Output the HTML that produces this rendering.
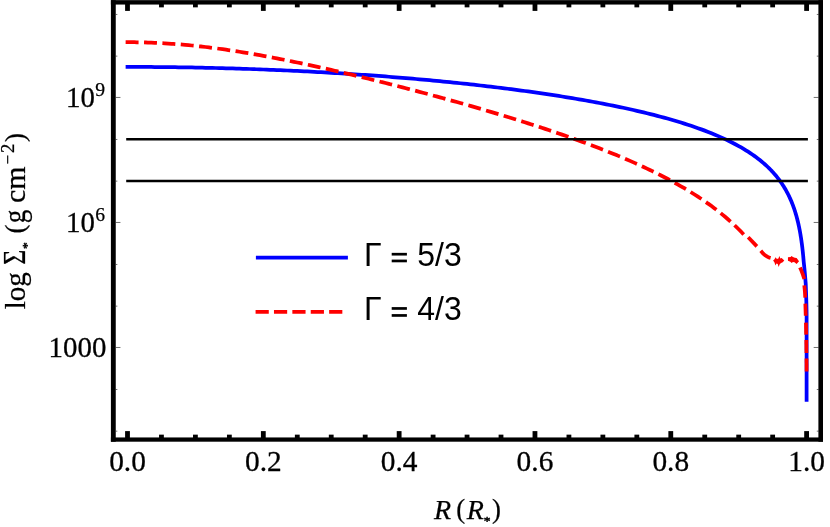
<!DOCTYPE html>
<html><head><meta charset="utf-8"><title>plot</title>
<style>
html,body{margin:0;padding:0;background:#fff;}
body{width:830px;height:527px;overflow:hidden;}
svg{display:block;}
text{font-family:"Liberation Serif",serif;fill:#000;}
.sans{font-family:"Liberation Sans",sans-serif;}
</style></head><body>
<svg width="830" height="527" viewBox="0 0 830 527">
<rect width="830" height="527" fill="#fff"/>
<!-- curves -->
<path d="M127.5 66.91 L130.9 66.91 L134.29 66.91 L137.69 66.92 L141.08 66.93 L144.48 66.95 L147.87 66.96 L151.27 66.99 L154.66 67.01 L158.06 67.04 L161.46 67.07 L164.85 67.1 L168.25 67.14 L171.64 67.18 L175.04 67.22 L178.43 67.27 L181.83 67.32 L185.22 67.37 L188.62 67.43 L192.01 67.49 L195.41 67.55 L198.81 67.62 L202.2 67.69 L205.6 67.76 L208.99 67.84 L212.39 67.92 L215.78 68 L219.18 68.08 L222.57 68.17 L225.97 68.27 L229.37 68.36 L232.76 68.46 L236.16 68.56 L239.55 68.67 L242.95 68.78 L246.34 68.89 L249.74 69 L253.13 69.12 L256.53 69.25 L259.92 69.37 L263.32 69.5 L266.72 69.63 L270.11 69.77 L273.51 69.91 L276.9 70.05 L280.3 70.2 L283.69 70.35 L287.09 70.5 L290.48 70.65 L293.88 70.81 L297.27 70.98 L300.67 71.14 L304.07 71.31 L307.46 71.49 L310.86 71.67 L314.25 71.85 L317.65 72.03 L321.04 72.22 L324.44 72.41 L327.83 72.6 L331.23 72.8 L334.63 73.01 L338.02 73.21 L341.42 73.42 L344.81 73.63 L348.21 73.85 L351.6 74.07 L355 74.3 L358.39 74.52 L361.79 74.76 L365.19 74.99 L368.58 75.23 L371.98 75.48 L375.37 75.72 L378.77 75.97 L382.16 76.23 L385.56 76.49 L388.95 76.75 L392.35 77.02 L395.74 77.29 L399.14 77.56 L402.54 77.84 L405.93 78.13 L409.33 78.41 L412.72 78.71 L416.12 79 L419.51 79.3 L422.91 79.61 L426.3 79.92 L429.7 80.23 L433.1 80.55 L436.49 80.87 L439.89 81.2 L443.28 81.53 L446.68 81.86 L450.07 82.2 L453.47 82.55 L456.86 82.9 L460.26 83.25 L463.65 83.61 L467.05 83.98 L470.45 84.35 L473.84 84.72 L477.24 85.1 L480.63 85.49 L484.03 85.88 L487.42 86.27 L490.82 86.67 L494.21 87.08 L497.61 87.49 L501.01 87.91 L504.4 88.33 L507.8 88.76 L511.19 89.2 L514.59 89.64 L517.98 90.09 L521.38 90.54 L524.77 91 L528.17 91.47 L531.56 91.94 L534.96 92.42 L538.36 92.9 L541.75 93.4 L545.15 93.9 L548.54 94.41 L551.94 94.92 L555.33 95.44 L558.73 95.97 L562.12 96.51 L565.52 97.06 L568.91 97.61 L572.31 98.17 L575.71 98.75 L579.1 99.33 L582.5 99.92 L585.89 100.51 L589.29 101.12 L592.68 101.74 L596.08 102.37 L599.47 103.01 L602.87 103.66 L606.27 104.32 L609.66 104.99 L613.06 105.67 L616.45 106.36 L619.85 107.07 L623.24 107.79 L626.64 108.53 L630.03 109.27 L633.43 110.03 L636.83 110.81 L640.22 111.6 L643.62 112.41 L647.01 113.23 L650.41 114.07 L653.8 114.93 L657.2 115.81 L660.59 116.71 L663.99 117.62 L667.38 118.56 L670.78 119.52 L674.18 120.51 L677.57 121.51 L680.97 122.55 L684.36 123.61 L687.76 124.7 L691.15 125.82 L694.55 126.97 L697.94 128.15 L701.34 129.37 L704.74 130.63 L708.13 131.93 L711.53 133.28 L714.92 134.67 L718.32 136.11 L721.71 137.6 L725.11 139.16 L728.5 140.77 L731.9 142.46 L735.29 144.22 L738.69 146.06 L741.18 147.47 L743.58 148.87 L745.89 150.28 L748.11 151.68 L750.26 153.08 L752.32 154.48 L754.31 155.88 L756.23 157.27 L758.07 158.67 L759.85 160.06 L761.56 161.45 L763.22 162.84 L764.81 164.23 L766.34 165.62 L767.81 167 L769.23 168.39 L770.6 169.77 L771.92 171.15 L773.19 172.54 L774.42 173.92 L775.6 175.29 L776.73 176.67 L777.83 178.05 L778.88 179.43 L779.9 180.8 L780.88 182.18 L781.82 183.55 L782.73 184.92 L783.6 186.29 L784.45 187.67 L785.26 189.04 L786.04 190.41 L786.79 191.78 L787.52 193.14 L788.22 194.51 L788.89 195.88 L789.54 197.25 L790.17 198.61 L790.77 199.98 L791.35 201.34 L791.91 202.71 L792.45 204.07 L792.97 205.44 L793.47 206.8 L793.95 208.16 L794.41 209.52 L794.86 210.89 L795.29 212.25 L795.7 213.61 L796.1 214.97 L796.49 216.33 L796.86 217.69 L797.21 219.05 L797.56 220.41 L797.89 221.77 L798.21 223.13 L798.52 224.49 L798.81 225.84 L799.1 227.2 L799.37 228.56 L799.64 229.92 L799.89 231.28 L800.14 232.63 L800.38 233.99 L800.6 235.35 L800.82 236.7 L801.04 238.06 L801.24 239.42 L801.44 240.77 L801.62 242.13 L801.81 243.48 L801.98 244.84 L802.15 246.19 L802.32 247.55 L802.47 248.9 L802.62 250.26 L802.77 251.61 L802.91 252.97 L803.04 254.32 L803.18 255.68 L803.3 257.03 L803.42 258.39 L803.54 259.74 L803.65 261.1 L803.77 262.45 L803.92 263.8 L804.06 265.16 L804.2 266.51 L804.34 267.86 L804.47 269.22 L804.6 270.57 L804.73 271.92 L804.85 273.28 L804.97 274.63 L805.09 275.98 L805.2 277.34 L805.32 278.69 L805.43 280.04 L805.53 281.4 L805.64 282.75 L805.74 284.1 L805.79 285.46 L805.85 286.81 L805.9 288.16 L805.95 289.51 L806 290.87 L806.05 292.22 L806.1 293.57 L806.14 294.92 L806.18 296.28 L806.22 297.63 L806.26 298.98 L806.3 300.33 L806.34 301.69 L806.37 303.04 L806.41 304.39 L806.44 305.74 L806.47 307.09 L806.5 308.45 L806.53 309.8 L806.56 311.15 L806.59 312.5 L806.6 313.86 L806.6 315.21 L806.6 316.56 L806.6 317.91 L806.6 319.26 L806.6 320.62 L806.6 321.97 L806.6 323.32 L806.6 324.67 L806.6 326.02 L806.6 327.37 L806.6 328.73 L806.6 330.08 L806.6 331.43 L806.6 332.78 L806.6 334.13 L806.6 335.49 L806.6 336.84 L806.6 338.19 L806.6 339.54 L806.6 340.89 L806.6 342.24 L806.6 343.6 L806.6 344.95 L806.6 346.3 L806.6 347.65 L806.6 349 L806.6 350.35 L806.6 351.71 L806.6 353.06 L806.6 354.41 L806.6 355.76 L806.6 357.11 L806.6 358.46 L806.6 359.82 L806.6 361.17 L806.6 362.52 L806.6 363.87 L806.6 365.22 L806.6 366.57 L806.6 367.93 L806.6 369.28 L806.6 370.63 L806.6 371.98 L806.6 373.33 L806.6 374.68 L806.6 376.04 L806.6 377.39 L806.6 378.74 L806.6 380.09 L806.6 381.44 L806.6 382.79 L806.6 384.14 L806.6 385.5 L806.6 386.85 L806.6 388.2 L806.6 389.55 L806.6 390.9 L806.6 392.25 L806.6 393.61 L806.6 394.96 L806.6 396.31 L806.6 397.66 L806.6 399.01 L806.6 399.8" fill="none" stroke="#0000ff" stroke-width="3.75" stroke-linecap="square" stroke-linejoin="round"/>
<path d="M127.5 42.19 L130.9 42.2 L134.29 42.23 L137.69 42.27 L141.08 42.34 L144.48 42.43 L147.87 42.53 L151.27 42.65 L154.66 42.79 L158.06 42.95 L161.46 43.13 L164.85 43.33 L168.25 43.54 L171.64 43.77 L175.04 44.02 L178.43 44.29 L181.83 44.57 L185.22 44.87 L188.62 45.19 L192.01 45.52 L195.41 45.87 L198.81 46.24 L202.2 46.62 L205.6 47.01 L208.99 47.43 L212.39 47.85 L215.78 48.29 L219.18 48.75 L222.57 49.22 L225.97 49.7 L229.37 50.2 L232.76 50.71 L236.16 51.23 L239.55 51.77 L242.95 52.31 L246.34 52.87 L249.74 53.44 L253.13 54.02 L256.53 54.62 L259.92 55.22 L263.32 55.83 L266.72 56.46 L270.11 57.09 L273.51 57.74 L276.9 58.39 L280.3 59.05 L283.69 59.72 L287.09 60.4 L290.48 61.09 L293.88 61.79 L297.27 62.49 L300.67 63.2 L304.07 63.92 L307.46 64.65 L310.86 65.38 L314.25 66.12 L317.65 66.87 L321.04 67.63 L324.44 68.39 L327.83 69.15 L331.23 69.93 L334.63 70.71 L338.02 71.49 L341.42 72.28 L344.81 73.08 L348.21 73.88 L351.6 74.69 L355 75.5 L358.39 76.32 L361.79 77.14 L365.19 77.97 L368.58 78.8 L371.98 79.64 L375.37 80.48 L378.77 81.32 L382.16 82.18 L385.56 83.03 L388.95 83.89 L392.35 84.76 L395.74 85.63 L399.14 86.5 L402.54 87.38 L405.93 88.26 L409.33 89.15 L412.72 90.04 L416.12 90.94 L419.51 91.84 L422.91 92.74 L426.3 93.65 L429.7 94.57 L433.1 95.49 L436.49 96.41 L439.89 97.34 L443.28 98.27 L446.68 99.21 L450.07 100.15 L453.47 101.09 L456.86 102.05 L460.26 103 L463.65 103.96 L467.05 104.93 L470.45 105.9 L473.84 106.88 L477.24 107.86 L480.63 108.85 L484.03 109.84 L487.42 110.84 L490.82 111.85 L494.21 112.86 L497.61 113.88 L501.01 114.9 L504.4 115.93 L507.8 116.97 L511.19 118.01 L514.59 119.06 L517.98 120.12 L521.38 121.19 L524.77 122.26 L528.17 123.34 L531.56 124.43 L534.96 125.53 L538.36 126.63 L541.75 127.74 L545.15 128.87 L548.54 130 L551.94 131.14 L555.33 132.29 L558.73 133.45 L562.12 134.62 L565.52 135.81 L568.91 137 L572.31 138.2 L575.71 139.42 L579.1 140.65 L582.5 141.89 L585.89 143.14 L589.29 144.41 L592.68 145.69 L596.08 146.99 L599.47 148.3 L602.87 149.63 L606.27 150.97 L609.66 152.33 L613.06 153.71 L616.45 155.1 L619.85 156.51 L623.24 157.95 L626.64 159.4 L630.03 160.87 L633.43 162.37 L636.83 163.89 L640.22 165.43 L643.62 167 L647.01 168.6 L650.41 170.22 L653.8 171.87 L657.2 173.55 L660.59 175.26 L663.99 177 L667.38 178.78 L670.78 180.6 L674.18 182.45 L677.57 184.34 L680.97 186.28 L684.36 188.26 L687.76 190.29 L691.15 192.37 L694.55 194.5 L697.94 196.69 L701.34 198.94 L704.74 201.25 L708.13 203.64 L711.53 206.1 L714.92 208.63 L718.32 211.26 L721.71 213.97 L725.11 216.79 L728.5 219.71 L731.9 222.76 L735.29 225.93 L738.69 229.25 L741.18 231.78 L742.74 233.42" fill="none" stroke="#ff0000" stroke-width="3.75" stroke-linecap="square" stroke-linejoin="round" stroke-dasharray="9.2 9.2"/>
<g fill="none" stroke="#ff0000" stroke-width="3.75" stroke-linecap="butt" stroke-linejoin="miter">
<path d="M748.2 237.3 L756.9 246.4"/>
<path d="M760.8 250.8 L763 253.4 L765.1 255.3 L767.3 256.7 L769 257.5 L770.6 257.9"/>
<path d="M800 267.4 L801.4 270.6 L802.9 274.6 L804.3 279"/>
<path d="M804.3 285.4 L804.85 291 L805.25 297.6"/>
<path d="M805.35 303.6 L805.75 315.8"/>
<path d="M805.95 322.6 L806.15 334.6"/>
<path d="M806.3 340 L806.45 352.9"/>
<path d="M806.5 358.6 L806.6 371.4"/>
</g>
<g fill="#ff0000" stroke="none">
<polygon points="773.12,260.41 774.5,259.32 775.59,257.16 776.89,258.89 778.41,258.46 779.36,256.07 780.36,258.46 781.66,258.02 782.96,259.32 784.26,260.41 782.74,262.36 781.01,263.01 779.71,264.31 778.62,266.91 777.76,263.88 776.46,263.44 775.46,265.61 774.5,262.58"/>
<polygon points="787.95,257.16 790.55,256.94 791.63,255.98 792.93,256.94 794.89,257.81 796.62,258.02 799.01,261.27 796.62,263.96 794.45,262.36 792.93,261.93 791.63,263.01 790.33,261.71 787.95,260.84"/>
</g>
<!-- horizontal lines -->
<g stroke="#000" stroke-width="2.4">
<line x1="126.2" x2="807.9" y1="139.3" y2="139.3"/>
<line x1="126.2" x2="807.9" y1="181" y2="181"/>
</g>
<!-- legend -->
<line x1="255.9" x2="347.9" y1="257.7" y2="257.7" stroke="#0000ff" stroke-width="3.75"/>
<line x1="257.5" x2="347.9" y1="311.9" y2="311.9" stroke="#ff0000" stroke-width="3.85" stroke-linecap="square" stroke-dasharray="9.35 9.04"/>
<g class="sans" font-size="32" style="filter:grayscale(1)">
<g transform="translate(0 265.8) scale(1 1.045)"><text class="sans" x="363.9" y="0">Γ</text><text class="sans" x="417.2" y="0">5/3</text></g>
<g transform="translate(0 320.3) scale(1 1.045)"><text class="sans" x="363.9" y="0">Γ</text><text class="sans" x="417.2" y="0">4/3</text></g>
<rect x="391.7" y="252.85" width="15.2" height="2.7"/><rect x="391.7" y="259.6" width="15.2" height="2.7"/>
<rect x="391.7" y="307.1" width="15.2" height="2.7"/><rect x="391.7" y="314.1" width="15.2" height="2.7"/>
</g>
<!-- frame -->
<g fill="#000">
<rect x="110.9" y="0.15" width="4.85" height="441.55"/>
<rect x="818.4" y="0.15" width="4.6" height="441.55"/>
<rect x="110.9" y="0.15" width="712.1" height="4.4"/>
<rect x="110.9" y="437.45" width="712.1" height="4.25"/>
</g>
<g fill="#000">
<rect x="125.1" y="431.1" width="4.8" height="7.35"/>
<rect x="125.1" y="3.5" width="4.8" height="7.4"/>
<rect x="159.05" y="434.65" width="4.8" height="3.8"/>
<rect x="159.05" y="3.5" width="4.8" height="3.85"/>
<rect x="193.01" y="434.65" width="4.8" height="3.8"/>
<rect x="193.01" y="3.5" width="4.8" height="3.85"/>
<rect x="226.97" y="434.65" width="4.8" height="3.8"/>
<rect x="226.97" y="3.5" width="4.8" height="3.85"/>
<rect x="260.92" y="431.1" width="4.8" height="7.35"/>
<rect x="260.92" y="3.5" width="4.8" height="7.4"/>
<rect x="294.88" y="434.65" width="4.8" height="3.8"/>
<rect x="294.88" y="3.5" width="4.8" height="3.85"/>
<rect x="328.83" y="434.65" width="4.8" height="3.8"/>
<rect x="328.83" y="3.5" width="4.8" height="3.85"/>
<rect x="362.79" y="434.65" width="4.8" height="3.8"/>
<rect x="362.79" y="3.5" width="4.8" height="3.85"/>
<rect x="396.74" y="431.1" width="4.8" height="7.35"/>
<rect x="396.74" y="3.5" width="4.8" height="7.4"/>
<rect x="430.7" y="434.65" width="4.8" height="3.8"/>
<rect x="430.7" y="3.5" width="4.8" height="3.85"/>
<rect x="464.65" y="434.65" width="4.8" height="3.8"/>
<rect x="464.65" y="3.5" width="4.8" height="3.85"/>
<rect x="498.61" y="434.65" width="4.8" height="3.8"/>
<rect x="498.61" y="3.5" width="4.8" height="3.85"/>
<rect x="532.56" y="431.1" width="4.8" height="7.35"/>
<rect x="532.56" y="3.5" width="4.8" height="7.4"/>
<rect x="566.52" y="434.65" width="4.8" height="3.8"/>
<rect x="566.52" y="3.5" width="4.8" height="3.85"/>
<rect x="600.47" y="434.65" width="4.8" height="3.8"/>
<rect x="600.47" y="3.5" width="4.8" height="3.85"/>
<rect x="634.43" y="434.65" width="4.8" height="3.8"/>
<rect x="634.43" y="3.5" width="4.8" height="3.85"/>
<rect x="668.38" y="431.1" width="4.8" height="7.35"/>
<rect x="668.38" y="3.5" width="4.8" height="7.4"/>
<rect x="702.34" y="434.65" width="4.8" height="3.8"/>
<rect x="702.34" y="3.5" width="4.8" height="3.85"/>
<rect x="736.29" y="434.65" width="4.8" height="3.8"/>
<rect x="736.29" y="3.5" width="4.8" height="3.85"/>
<rect x="770.25" y="434.65" width="4.8" height="3.8"/>
<rect x="770.25" y="3.5" width="4.8" height="3.85"/>
<rect x="804.2" y="431.1" width="4.8" height="7.35"/>
<rect x="804.2" y="3.5" width="4.8" height="7.4"/>
</g>
<g stroke="#333" stroke-width="0.7">
<line x1="115.3" x2="117.35" y1="431.16" y2="431.16"/>
<line x1="816.8" x2="818.9" y1="431.16" y2="431.16"/>
<line x1="115.3" x2="117.35" y1="389.49" y2="389.49"/>
<line x1="816.8" x2="818.9" y1="389.49" y2="389.49"/>
<line x1="115.3" x2="120.45" y1="347.47" y2="347.47"/>
<line x1="813.7" x2="818.9" y1="347.47" y2="347.47"/>
<line x1="115.3" x2="117.35" y1="306.15" y2="306.15"/>
<line x1="816.8" x2="818.9" y1="306.15" y2="306.15"/>
<line x1="115.3" x2="117.35" y1="264.48" y2="264.48"/>
<line x1="816.8" x2="818.9" y1="264.48" y2="264.48"/>
<line x1="115.3" x2="120.45" y1="222.46" y2="222.46"/>
<line x1="813.7" x2="818.9" y1="222.46" y2="222.46"/>
<line x1="115.3" x2="117.35" y1="181.14" y2="181.14"/>
<line x1="816.8" x2="818.9" y1="181.14" y2="181.14"/>
<line x1="115.3" x2="117.35" y1="139.47" y2="139.47"/>
<line x1="816.8" x2="818.9" y1="139.47" y2="139.47"/>
<line x1="115.3" x2="120.45" y1="97.45" y2="97.45"/>
<line x1="813.7" x2="818.9" y1="97.45" y2="97.45"/>
<line x1="115.3" x2="117.35" y1="56.13" y2="56.13"/>
<line x1="816.8" x2="818.9" y1="56.13" y2="56.13"/>
<line x1="115.3" x2="117.35" y1="14.46" y2="14.46"/>
<line x1="816.8" x2="818.9" y1="14.46" y2="14.46"/>
</g>
<!-- tick labels -->
<g font-size="28.5" stroke="#000" stroke-width="0.28" style="filter:grayscale(1)">
<text x="127.5" y="471.2" text-anchor="middle" textLength="36.7" lengthAdjust="spacingAndGlyphs">0.0</text>
<text x="263.32" y="471.2" text-anchor="middle" textLength="36.7" lengthAdjust="spacingAndGlyphs">0.2</text>
<text x="399.14" y="471.2" text-anchor="middle" textLength="36.7" lengthAdjust="spacingAndGlyphs">0.4</text>
<text x="534.96" y="471.2" text-anchor="middle" textLength="36.7" lengthAdjust="spacingAndGlyphs">0.6</text>
<text x="670.78" y="471.2" text-anchor="middle" textLength="36.7" lengthAdjust="spacingAndGlyphs">0.8</text>
<text x="806.6" y="471.2" text-anchor="middle" textLength="36.7" lengthAdjust="spacingAndGlyphs">1.0</text>
<text x="48.6" y="356.8" textLength="57.8" lengthAdjust="spacingAndGlyphs">1000</text>
<text x="66" y="106.7" textLength="28.8" lengthAdjust="spacingAndGlyphs">10</text>
<text x="95.3" y="96.4" font-size="19.6" stroke-width="0.25">9</text>
<text x="66" y="231.7" textLength="28.8" lengthAdjust="spacingAndGlyphs">10</text>
<text x="95.3" y="221.4" font-size="19.6" stroke-width="0.25">6</text>
</g>
<!-- x label -->
<g font-size="28" stroke="#000" stroke-width="0.25" style="filter:grayscale(1)">
<text x="434" y="518.5" font-style="italic">R</text>
<text x="456.3" y="518.3" font-size="26.8">(</text>
<text x="466.7" y="518.5" font-style="italic">R</text>
<text x="483.8" y="524.5" font-size="13.5" stroke-width="0.5">*</text>
<text x="491.9" y="518.3" font-size="26.8">)</text>
</g>
<!-- y label -->
<g font-size="29.5" transform="translate(24.7 309) rotate(-90)" stroke="#000" stroke-width="0.25" style="filter:grayscale(1)">
<text x="-0.3" y="0" textLength="37.2" lengthAdjust="spacingAndGlyphs">log</text>
<text x="44.2" y="0" font-size="30.5" textLength="15" lengthAdjust="spacingAndGlyphs">Σ</text>
<text x="60" y="6" font-size="13.5" stroke-width="0.5">*</text>
<text x="75.4" y="-0.85" font-size="26.8">(</text>
<text x="85.8" y="0" font-size="30.5" textLength="13.5" lengthAdjust="spacingAndGlyphs">g</text>
<text x="106" y="0" textLength="36.5" lengthAdjust="spacingAndGlyphs">cm</text>
<text x="144.8" y="-11" font-size="18.6" textLength="9.6" lengthAdjust="spacingAndGlyphs">−</text>
<text x="156" y="-11" font-size="18.6">2</text>
<text x="166.9" y="-0.85" font-size="26.8">)</text>
</g>
</svg>
</body></html>
